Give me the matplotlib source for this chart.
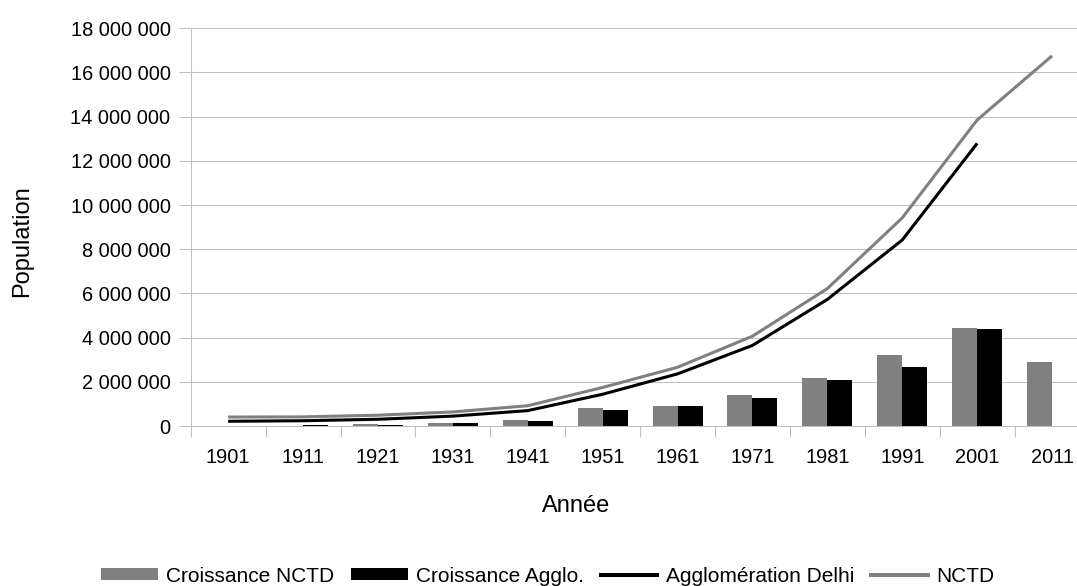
import matplotlib
matplotlib.use("Agg")
import matplotlib.pyplot as plt
import numpy as np
from matplotlib.ticker import FuncFormatter, FixedLocator
from matplotlib.patches import Patch
from matplotlib.lines import Line2D

plt.rcParams['font.family'] = ['Liberation Sans', 'DejaVu Sans']

years = ["1901", "1911", "1921", "1931", "1941", "1951", "1961", "1971", "1981", "1991", "2001", "2011"]
nctd = [405819, 413851, 488452, 636246, 917939, 1744072, 2658612, 4065698, 6220406, 9420644, 13850507, 16753235]
agglo = [214115, 237944, 304420, 447442, 695686, 1437134, 2359408, 3647023, 5729283, 8419084, 12791458, np.nan]
growth_nctd = [np.nan, 8032, 74601, 147794, 281693, 826133, 914540, 1407086, 2154708, 3200238, 4429863, 2902728]
growth_agglo = [np.nan, 23829, 66476, 143022, 248244, 741448, 922274, 1287615, 2082260, 2689801, 4372374, np.nan]

W, H = 1077, 586
fig = plt.figure(figsize=(W / 100, H / 100), dpi=100)
left, right, top, bottom = 190.7, 1089.5, 28.3, 426.0
ax = fig.add_axes([left / W, 1 - bottom / H, (right - left) / W, (bottom - top) / H])

x = np.arange(len(years))
bw = 1 / 3
gray = "#808080"
ax.bar(x - bw / 2, growth_nctd, width=bw, color=gray, zorder=2)
ax.bar(x + bw / 2, growth_agglo, width=bw, color="#000000", zorder=2)
ax.plot(x, agglo, color="#000000", lw=2.2, zorder=3, solid_joinstyle='round', solid_capstyle='butt')
ax.plot(x, nctd, color=gray, lw=2.2, zorder=3, solid_joinstyle='round', solid_capstyle='butt')

ax.set_xlim(-0.5, len(years) - 0.5)
ax.set_ylim(0, 18000000)
ax.yaxis.set_major_locator(FixedLocator(np.arange(0, 18000001, 2000000)))
ax.yaxis.set_major_formatter(FuncFormatter(lambda v, p: f"{int(v):,}".replace(",", " ")))

ax.set_xticks(x)
ax.set_xticklabels(years)
ax.set_xticks(np.arange(-0.5, len(years) + 0.5, 1), minor=True)
ax.tick_params(axis='x', which='major', length=0, pad=16, labelsize=14.4, labelcolor='#000000')
ax.tick_params(axis='x', which='minor', length=8, width=0.75, color='#bfbfbf', direction='out')
ax.tick_params(axis='y', which='major', length=8.5, width=0.75, color='#bfbfbf', pad=6, labelsize=14.4, labelcolor='#000000')

ax.grid(axis='y', color='#c0c0c0', lw=0.75, zorder=0)
ax.set_axisbelow(True)
for s in ['top', 'right']:
    ax.spines[s].set_visible(False)
for s in ['left', 'bottom']:
    ax.spines[s].set_color('#bfbfbf')
    ax.spines[s].set_linewidth(0.75)

fig.text(576 / W, 1 - 512.3 / H, "Année", ha='center', va='baseline', fontsize=17)
fig.text(22 / W, 1 - 241 / H, "Population", ha='center', va='center', rotation=90, fontsize=17)

handles = [
    Patch(facecolor=gray, edgecolor='none', label="Croissance NCTD"),
    Patch(facecolor="#000000", edgecolor='none', label="Croissance Agglo."),
    Line2D([], [], color="#000000", lw=2.9, label="Agglomération Delhi"),
    Line2D([], [], color=gray, lw=2.9, label="NCTD"),
]
fig.legend(handles=handles, loc='center', bbox_to_anchor=(548 / W, 1 - 576 / H), ncol=4,
           frameon=False, fontsize=15, handlelength=2.7, handleheight=0.56,
           handletextpad=0.43, columnspacing=0.8, borderpad=0, borderaxespad=0)

fig.savefig("out.png", dpi=100)
